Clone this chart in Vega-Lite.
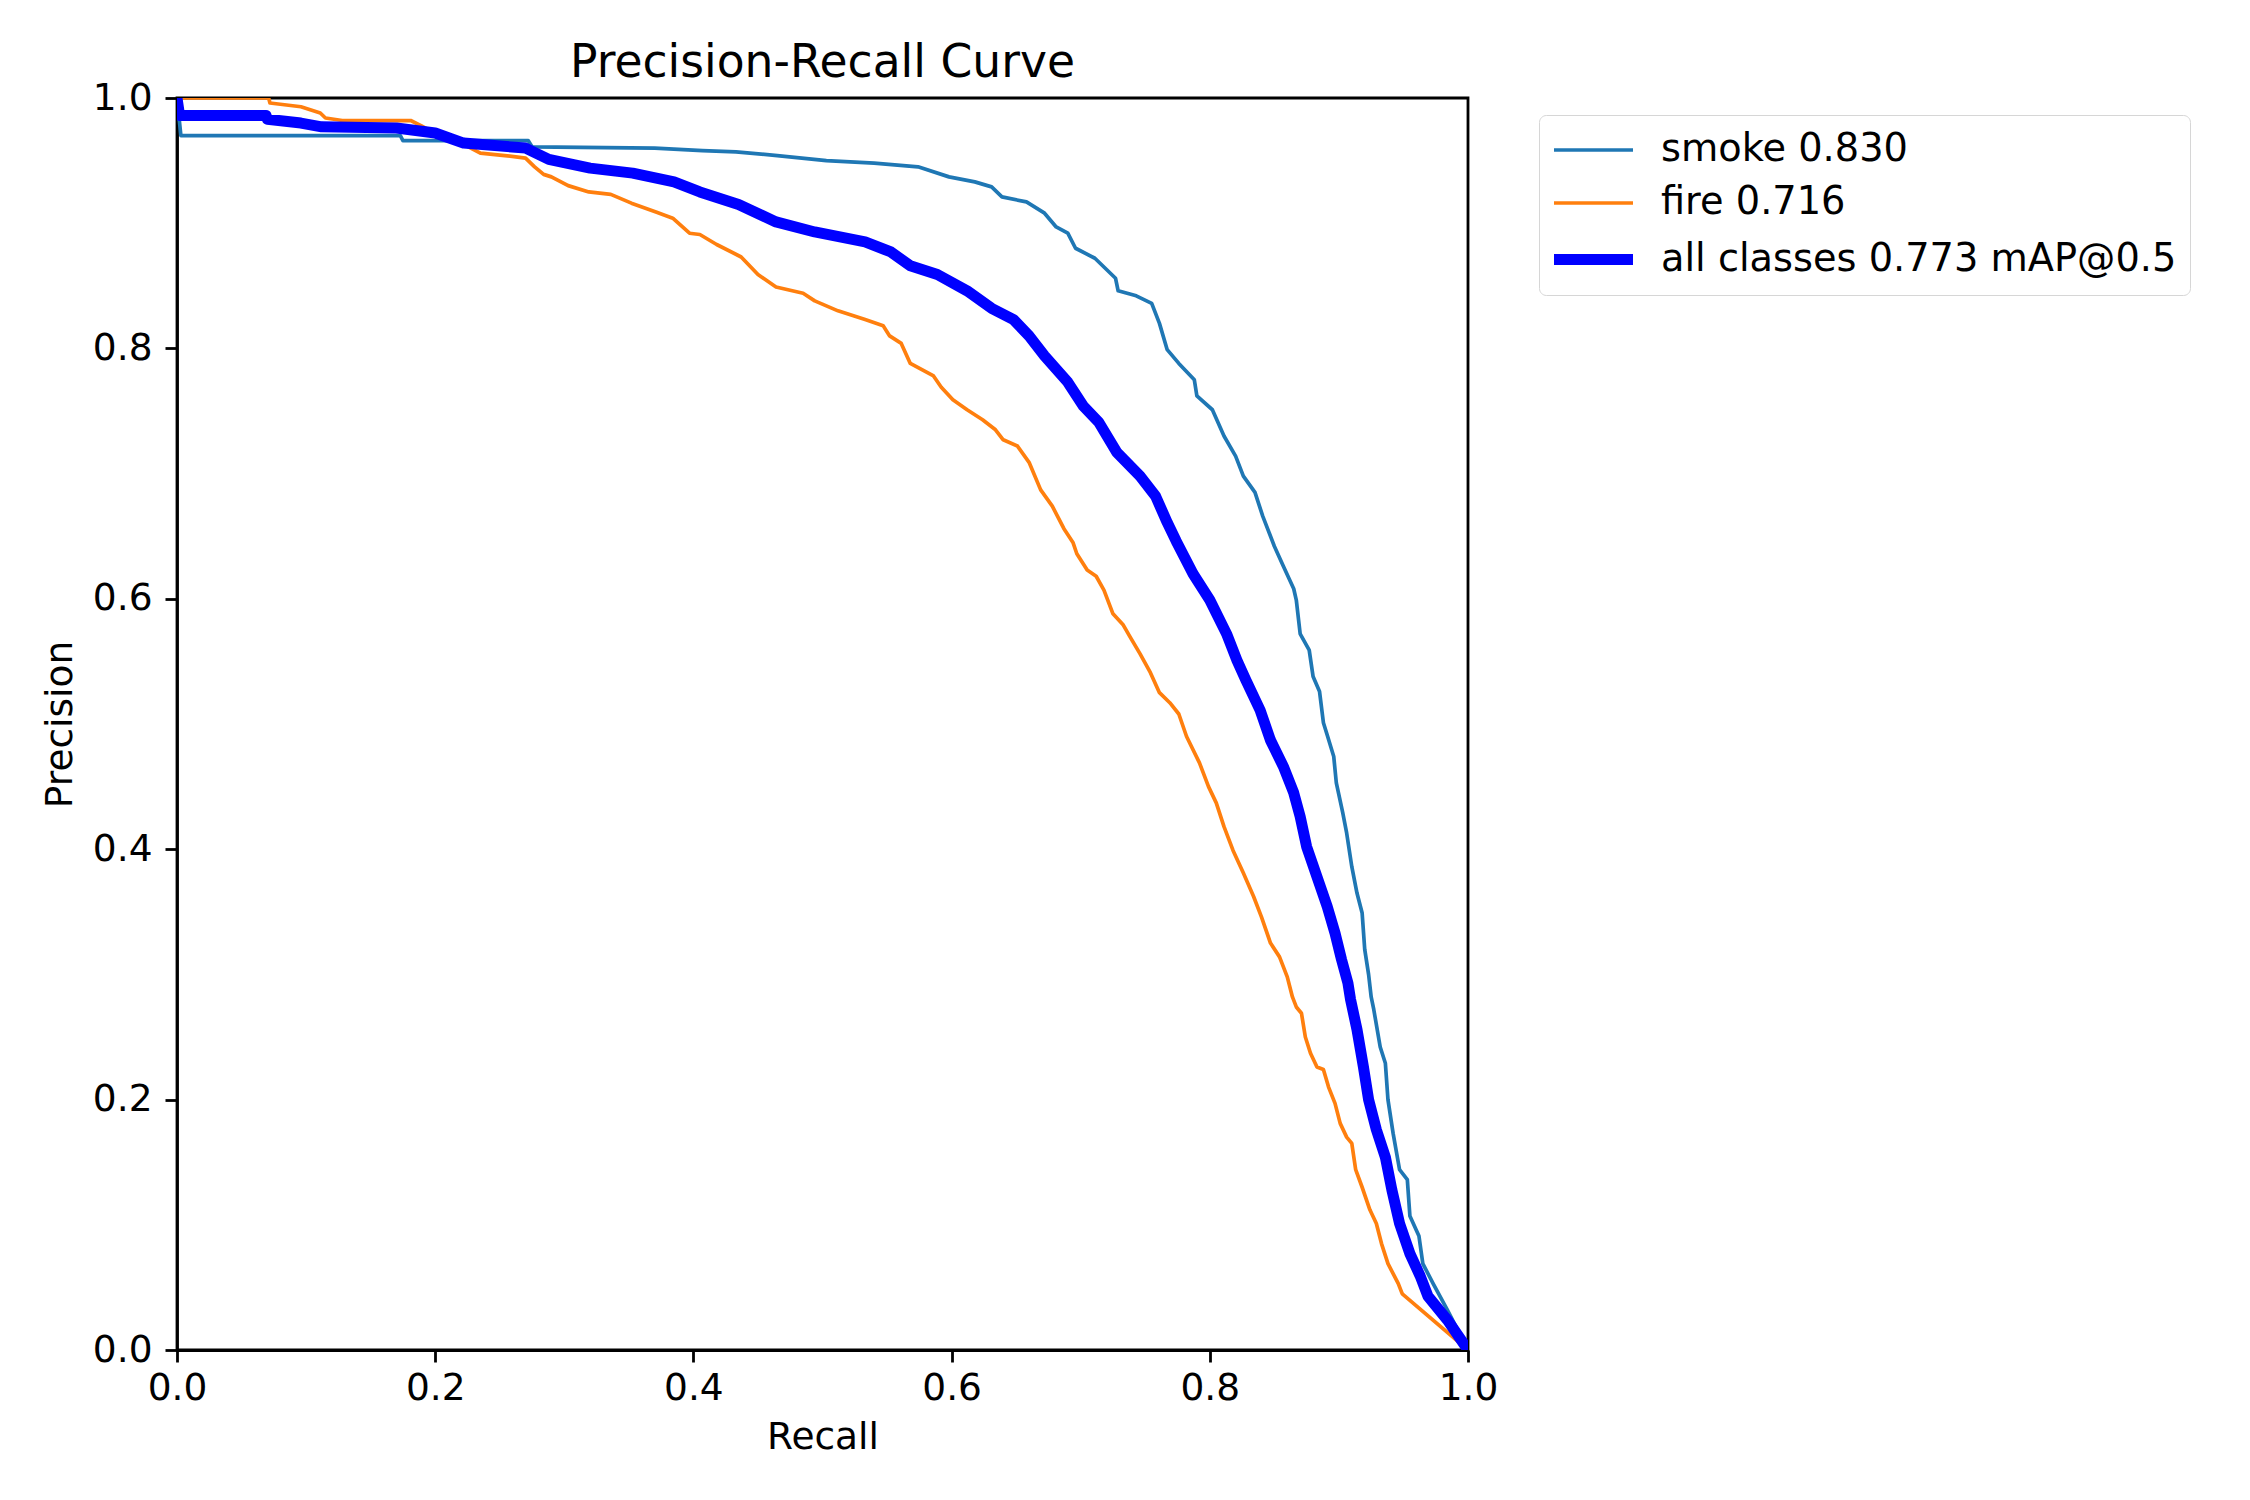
{
  "$schema": "https://vega.github.io/schema/vega-lite/v6.json",
  "width": 1291,
  "height": 1252,
  "autosize": "none",
  "padding": {"left": 177, "top": 98, "right": 782, "bottom": 150},
  "background": "white",
  "title": {
    "text": "Precision-Recall Curve",
    "font": "DejaVu Sans",
    "fontSize": 45.6,
    "fontWeight": "normal",
    "color": "black",
    "baseline": "bottom",
    "offset": 14,
    "dy": 68
  },
  "config": {
    "view": {"stroke": "black", "strokeWidth": 2.8},
    "axis": {
      "domainColor": "black",
      "domainWidth": 2.8,
      "tickColor": "black",
      "tickWidth": 2.8,
      "tickSize": 12,
      "labelPadding": 11,
      "labelFont": "DejaVu Sans",
      "labelFontSize": 37.5,
      "labelColor": "black",
      "titleFont": "DejaVu Sans",
      "titleFontSize": 37.5,
      "titleFontWeight": "normal",
      "titleColor": "black",
      "grid": false,
      "labelFlush": false,
      "labelOverlap": false
    },
    "legend": {
      "orient": "none",
      "legendX": 1362,
      "legendY": 17,
      "symbolType": "M-2,0L2,0",
      "symbolSize": 1560,
      "symbolOffset": 16,
      "labelFont": "DejaVu Sans",
      "labelFontSize": 38.3,
      "labelColor": "black",
      "labelOffset": 42,
      "labelLimit": 800,
      "padding": 13,
      "rowPadding": 12,
      "strokeColor": "#d6d6d6",
      "fillColor": "white",
      "cornerRadius": 7
    }
  },
  "data": {
    "values": [
      {"series": "smoke 0.830", "recall": 0, "precision": 1.0},
      {"series": "smoke 0.830", "recall": 0.003, "precision": 0.970},
      {"series": "smoke 0.830", "recall": 0.173, "precision": 0.970},
      {"series": "smoke 0.830", "recall": 0.175, "precision": 0.966},
      {"series": "smoke 0.830", "recall": 0.272, "precision": 0.966},
      {"series": "smoke 0.830", "recall": 0.275, "precision": 0.961},
      {"series": "smoke 0.830", "recall": 0.370, "precision": 0.960},
      {"series": "smoke 0.830", "recall": 0.407, "precision": 0.958},
      {"series": "smoke 0.830", "recall": 0.433, "precision": 0.957},
      {"series": "smoke 0.830", "recall": 0.465, "precision": 0.954},
      {"series": "smoke 0.830", "recall": 0.503, "precision": 0.950},
      {"series": "smoke 0.830", "recall": 0.540, "precision": 0.948},
      {"series": "smoke 0.830", "recall": 0.574, "precision": 0.945},
      {"series": "smoke 0.830", "recall": 0.598, "precision": 0.937},
      {"series": "smoke 0.830", "recall": 0.618, "precision": 0.933},
      {"series": "smoke 0.830", "recall": 0.631, "precision": 0.929},
      {"series": "smoke 0.830", "recall": 0.639, "precision": 0.921},
      {"series": "smoke 0.830", "recall": 0.658, "precision": 0.917},
      {"series": "smoke 0.830", "recall": 0.672, "precision": 0.908},
      {"series": "smoke 0.830", "recall": 0.681, "precision": 0.897},
      {"series": "smoke 0.830", "recall": 0.690, "precision": 0.892},
      {"series": "smoke 0.830", "recall": 0.696, "precision": 0.880},
      {"series": "smoke 0.830", "recall": 0.711, "precision": 0.872},
      {"series": "smoke 0.830", "recall": 0.720, "precision": 0.863},
      {"series": "smoke 0.830", "recall": 0.727, "precision": 0.856},
      {"series": "smoke 0.830", "recall": 0.729, "precision": 0.846},
      {"series": "smoke 0.830", "recall": 0.743, "precision": 0.842},
      {"series": "smoke 0.830", "recall": 0.755, "precision": 0.836},
      {"series": "smoke 0.830", "recall": 0.761, "precision": 0.820},
      {"series": "smoke 0.830", "recall": 0.767, "precision": 0.799},
      {"series": "smoke 0.830", "recall": 0.776, "precision": 0.788},
      {"series": "smoke 0.830", "recall": 0.788, "precision": 0.775},
      {"series": "smoke 0.830", "recall": 0.790, "precision": 0.762},
      {"series": "smoke 0.830", "recall": 0.802, "precision": 0.751},
      {"series": "smoke 0.830", "recall": 0.811, "precision": 0.730},
      {"series": "smoke 0.830", "recall": 0.820, "precision": 0.714},
      {"series": "smoke 0.830", "recall": 0.826, "precision": 0.698},
      {"series": "smoke 0.830", "recall": 0.835, "precision": 0.685},
      {"series": "smoke 0.830", "recall": 0.841, "precision": 0.666},
      {"series": "smoke 0.830", "recall": 0.850, "precision": 0.642},
      {"series": "smoke 0.830", "recall": 0.857, "precision": 0.626},
      {"series": "smoke 0.830", "recall": 0.865, "precision": 0.608},
      {"series": "smoke 0.830", "recall": 0.867, "precision": 0.599},
      {"series": "smoke 0.830", "recall": 0.870, "precision": 0.572},
      {"series": "smoke 0.830", "recall": 0.877, "precision": 0.559},
      {"series": "smoke 0.830", "recall": 0.880, "precision": 0.538},
      {"series": "smoke 0.830", "recall": 0.885, "precision": 0.526},
      {"series": "smoke 0.830", "recall": 0.888, "precision": 0.501},
      {"series": "smoke 0.830", "recall": 0.891, "precision": 0.491},
      {"series": "smoke 0.830", "recall": 0.896, "precision": 0.474},
      {"series": "smoke 0.830", "recall": 0.898, "precision": 0.453},
      {"series": "smoke 0.830", "recall": 0.903, "precision": 0.429},
      {"series": "smoke 0.830", "recall": 0.906, "precision": 0.413},
      {"series": "smoke 0.830", "recall": 0.910, "precision": 0.386},
      {"series": "smoke 0.830", "recall": 0.914, "precision": 0.365},
      {"series": "smoke 0.830", "recall": 0.918, "precision": 0.349},
      {"series": "smoke 0.830", "recall": 0.920, "precision": 0.320},
      {"series": "smoke 0.830", "recall": 0.923, "precision": 0.300},
      {"series": "smoke 0.830", "recall": 0.925, "precision": 0.282},
      {"series": "smoke 0.830", "recall": 0.927, "precision": 0.272},
      {"series": "smoke 0.830", "recall": 0.932, "precision": 0.242},
      {"series": "smoke 0.830", "recall": 0.936, "precision": 0.229},
      {"series": "smoke 0.830", "recall": 0.938, "precision": 0.200},
      {"series": "smoke 0.830", "recall": 0.942, "precision": 0.173},
      {"series": "smoke 0.830", "recall": 0.947, "precision": 0.144},
      {"series": "smoke 0.830", "recall": 0.953, "precision": 0.136},
      {"series": "smoke 0.830", "recall": 0.955, "precision": 0.107},
      {"series": "smoke 0.830", "recall": 0.962, "precision": 0.091},
      {"series": "smoke 0.830", "recall": 0.965, "precision": 0.069},
      {"series": "smoke 0.830", "recall": 0.973, "precision": 0.053},
      {"series": "smoke 0.830", "recall": 0.984, "precision": 0.032},
      {"series": "smoke 0.830", "recall": 1.0, "precision": 0.0},

      {"series": "fire 0.716", "recall": 0, "precision": 1.0},
      {"series": "fire 0.716", "recall": 0.071, "precision": 1.0},
      {"series": "fire 0.716", "recall": 0.072, "precision": 0.996},
      {"series": "fire 0.716", "recall": 0.096, "precision": 0.993},
      {"series": "fire 0.716", "recall": 0.111, "precision": 0.988},
      {"series": "fire 0.716", "recall": 0.115, "precision": 0.984},
      {"series": "fire 0.716", "recall": 0.128, "precision": 0.982},
      {"series": "fire 0.716", "recall": 0.181, "precision": 0.982},
      {"series": "fire 0.716", "recall": 0.189, "precision": 0.978},
      {"series": "fire 0.716", "recall": 0.196, "precision": 0.974},
      {"series": "fire 0.716", "recall": 0.222, "precision": 0.963},
      {"series": "fire 0.716", "recall": 0.235, "precision": 0.956},
      {"series": "fire 0.716", "recall": 0.254, "precision": 0.954},
      {"series": "fire 0.716", "recall": 0.270, "precision": 0.952},
      {"series": "fire 0.716", "recall": 0.277, "precision": 0.945},
      {"series": "fire 0.716", "recall": 0.284, "precision": 0.939},
      {"series": "fire 0.716", "recall": 0.290, "precision": 0.937},
      {"series": "fire 0.716", "recall": 0.303, "precision": 0.930},
      {"series": "fire 0.716", "recall": 0.319, "precision": 0.925},
      {"series": "fire 0.716", "recall": 0.336, "precision": 0.923},
      {"series": "fire 0.716", "recall": 0.352, "precision": 0.916},
      {"series": "fire 0.716", "recall": 0.371, "precision": 0.909},
      {"series": "fire 0.716", "recall": 0.384, "precision": 0.904},
      {"series": "fire 0.716", "recall": 0.397, "precision": 0.892},
      {"series": "fire 0.716", "recall": 0.405, "precision": 0.891},
      {"series": "fire 0.716", "recall": 0.418, "precision": 0.883},
      {"series": "fire 0.716", "recall": 0.437, "precision": 0.873},
      {"series": "fire 0.716", "recall": 0.450, "precision": 0.859},
      {"series": "fire 0.716", "recall": 0.464, "precision": 0.849},
      {"series": "fire 0.716", "recall": 0.485, "precision": 0.844},
      {"series": "fire 0.716", "recall": 0.494, "precision": 0.838},
      {"series": "fire 0.716", "recall": 0.512, "precision": 0.830},
      {"series": "fire 0.716", "recall": 0.533, "precision": 0.823},
      {"series": "fire 0.716", "recall": 0.547, "precision": 0.818},
      {"series": "fire 0.716", "recall": 0.552, "precision": 0.810},
      {"series": "fire 0.716", "recall": 0.561, "precision": 0.804},
      {"series": "fire 0.716", "recall": 0.568, "precision": 0.788},
      {"series": "fire 0.716", "recall": 0.586, "precision": 0.778},
      {"series": "fire 0.716", "recall": 0.592, "precision": 0.769},
      {"series": "fire 0.716", "recall": 0.601, "precision": 0.759},
      {"series": "fire 0.716", "recall": 0.612, "precision": 0.751},
      {"series": "fire 0.716", "recall": 0.624, "precision": 0.743},
      {"series": "fire 0.716", "recall": 0.634, "precision": 0.735},
      {"series": "fire 0.716", "recall": 0.640, "precision": 0.727},
      {"series": "fire 0.716", "recall": 0.651, "precision": 0.722},
      {"series": "fire 0.716", "recall": 0.660, "precision": 0.709},
      {"series": "fire 0.716", "recall": 0.669, "precision": 0.687},
      {"series": "fire 0.716", "recall": 0.678, "precision": 0.674},
      {"series": "fire 0.716", "recall": 0.687, "precision": 0.656},
      {"series": "fire 0.716", "recall": 0.694, "precision": 0.645},
      {"series": "fire 0.716", "recall": 0.697, "precision": 0.636},
      {"series": "fire 0.716", "recall": 0.705, "precision": 0.623},
      {"series": "fire 0.716", "recall": 0.712, "precision": 0.618},
      {"series": "fire 0.716", "recall": 0.718, "precision": 0.607},
      {"series": "fire 0.716", "recall": 0.725, "precision": 0.588},
      {"series": "fire 0.716", "recall": 0.733, "precision": 0.579},
      {"series": "fire 0.716", "recall": 0.738, "precision": 0.570},
      {"series": "fire 0.716", "recall": 0.746, "precision": 0.556},
      {"series": "fire 0.716", "recall": 0.754, "precision": 0.541},
      {"series": "fire 0.716", "recall": 0.761, "precision": 0.525},
      {"series": "fire 0.716", "recall": 0.769, "precision": 0.517},
      {"series": "fire 0.716", "recall": 0.776, "precision": 0.508},
      {"series": "fire 0.716", "recall": 0.782, "precision": 0.490},
      {"series": "fire 0.716", "recall": 0.792, "precision": 0.469},
      {"series": "fire 0.716", "recall": 0.799, "precision": 0.450},
      {"series": "fire 0.716", "recall": 0.805, "precision": 0.437},
      {"series": "fire 0.716", "recall": 0.811, "precision": 0.418},
      {"series": "fire 0.716", "recall": 0.818, "precision": 0.399},
      {"series": "fire 0.716", "recall": 0.826, "precision": 0.381},
      {"series": "fire 0.716", "recall": 0.834, "precision": 0.362},
      {"series": "fire 0.716", "recall": 0.840, "precision": 0.346},
      {"series": "fire 0.716", "recall": 0.847, "precision": 0.325},
      {"series": "fire 0.716", "recall": 0.854, "precision": 0.314},
      {"series": "fire 0.716", "recall": 0.860, "precision": 0.298},
      {"series": "fire 0.716", "recall": 0.864, "precision": 0.282},
      {"series": "fire 0.716", "recall": 0.867, "precision": 0.274},
      {"series": "fire 0.716", "recall": 0.871, "precision": 0.269},
      {"series": "fire 0.716", "recall": 0.874, "precision": 0.250},
      {"series": "fire 0.716", "recall": 0.878, "precision": 0.237},
      {"series": "fire 0.716", "recall": 0.883, "precision": 0.226},
      {"series": "fire 0.716", "recall": 0.888, "precision": 0.224},
      {"series": "fire 0.716", "recall": 0.892, "precision": 0.210},
      {"series": "fire 0.716", "recall": 0.897, "precision": 0.197},
      {"series": "fire 0.716", "recall": 0.901, "precision": 0.181},
      {"series": "fire 0.716", "recall": 0.906, "precision": 0.170},
      {"series": "fire 0.716", "recall": 0.910, "precision": 0.165},
      {"series": "fire 0.716", "recall": 0.913, "precision": 0.144},
      {"series": "fire 0.716", "recall": 0.918, "precision": 0.130},
      {"series": "fire 0.716", "recall": 0.924, "precision": 0.112},
      {"series": "fire 0.716", "recall": 0.929, "precision": 0.101},
      {"series": "fire 0.716", "recall": 0.933, "precision": 0.085},
      {"series": "fire 0.716", "recall": 0.938, "precision": 0.069},
      {"series": "fire 0.716", "recall": 0.942, "precision": 0.061},
      {"series": "fire 0.716", "recall": 0.946, "precision": 0.053},
      {"series": "fire 0.716", "recall": 0.949, "precision": 0.045},
      {"series": "fire 0.716", "recall": 0.950, "precision": 0.044},
      {"series": "fire 0.716", "recall": 1.0, "precision": 0.0},

      {"series": "all classes 0.773 mAP@0.5", "recall": 0, "precision": 1.0},
      {"series": "all classes 0.773 mAP@0.5", "recall": 0.002, "precision": 0.986},
      {"series": "all classes 0.773 mAP@0.5", "recall": 0.069, "precision": 0.986},
      {"series": "all classes 0.773 mAP@0.5", "recall": 0.070, "precision": 0.983},
      {"series": "all classes 0.773 mAP@0.5", "recall": 0.096, "precision": 0.980},
      {"series": "all classes 0.773 mAP@0.5", "recall": 0.112, "precision": 0.977},
      {"series": "all classes 0.773 mAP@0.5", "recall": 0.170, "precision": 0.976},
      {"series": "all classes 0.773 mAP@0.5", "recall": 0.200, "precision": 0.972},
      {"series": "all classes 0.773 mAP@0.5", "recall": 0.222, "precision": 0.964},
      {"series": "all classes 0.773 mAP@0.5", "recall": 0.270, "precision": 0.960},
      {"series": "all classes 0.773 mAP@0.5", "recall": 0.288, "precision": 0.951},
      {"series": "all classes 0.773 mAP@0.5", "recall": 0.320, "precision": 0.944},
      {"series": "all classes 0.773 mAP@0.5", "recall": 0.353, "precision": 0.940},
      {"series": "all classes 0.773 mAP@0.5", "recall": 0.385, "precision": 0.933},
      {"series": "all classes 0.773 mAP@0.5", "recall": 0.405, "precision": 0.925},
      {"series": "all classes 0.773 mAP@0.5", "recall": 0.435, "precision": 0.915},
      {"series": "all classes 0.773 mAP@0.5", "recall": 0.464, "precision": 0.901},
      {"series": "all classes 0.773 mAP@0.5", "recall": 0.494, "precision": 0.893},
      {"series": "all classes 0.773 mAP@0.5", "recall": 0.533, "precision": 0.885},
      {"series": "all classes 0.773 mAP@0.5", "recall": 0.553, "precision": 0.877},
      {"series": "all classes 0.773 mAP@0.5", "recall": 0.568, "precision": 0.866},
      {"series": "all classes 0.773 mAP@0.5", "recall": 0.589, "precision": 0.859},
      {"series": "all classes 0.773 mAP@0.5", "recall": 0.612, "precision": 0.846},
      {"series": "all classes 0.773 mAP@0.5", "recall": 0.631, "precision": 0.832},
      {"series": "all classes 0.773 mAP@0.5", "recall": 0.648, "precision": 0.823},
      {"series": "all classes 0.773 mAP@0.5", "recall": 0.660, "precision": 0.810},
      {"series": "all classes 0.773 mAP@0.5", "recall": 0.672, "precision": 0.794},
      {"series": "all classes 0.773 mAP@0.5", "recall": 0.690, "precision": 0.773},
      {"series": "all classes 0.773 mAP@0.5", "recall": 0.702, "precision": 0.754},
      {"series": "all classes 0.773 mAP@0.5", "recall": 0.714, "precision": 0.741},
      {"series": "all classes 0.773 mAP@0.5", "recall": 0.728, "precision": 0.717},
      {"series": "all classes 0.773 mAP@0.5", "recall": 0.746, "precision": 0.698},
      {"series": "all classes 0.773 mAP@0.5", "recall": 0.758, "precision": 0.682},
      {"series": "all classes 0.773 mAP@0.5", "recall": 0.767, "precision": 0.661},
      {"series": "all classes 0.773 mAP@0.5", "recall": 0.774, "precision": 0.646},
      {"series": "all classes 0.773 mAP@0.5", "recall": 0.787, "precision": 0.620},
      {"series": "all classes 0.773 mAP@0.5", "recall": 0.800, "precision": 0.599},
      {"series": "all classes 0.773 mAP@0.5", "recall": 0.813, "precision": 0.572},
      {"series": "all classes 0.773 mAP@0.5", "recall": 0.821, "precision": 0.551},
      {"series": "all classes 0.773 mAP@0.5", "recall": 0.828, "precision": 0.535},
      {"series": "all classes 0.773 mAP@0.5", "recall": 0.839, "precision": 0.511},
      {"series": "all classes 0.773 mAP@0.5", "recall": 0.847, "precision": 0.487},
      {"series": "all classes 0.773 mAP@0.5", "recall": 0.857, "precision": 0.466},
      {"series": "all classes 0.773 mAP@0.5", "recall": 0.865, "precision": 0.445},
      {"series": "all classes 0.773 mAP@0.5", "recall": 0.870, "precision": 0.426},
      {"series": "all classes 0.773 mAP@0.5", "recall": 0.875, "precision": 0.402},
      {"series": "all classes 0.773 mAP@0.5", "recall": 0.883, "precision": 0.378},
      {"series": "all classes 0.773 mAP@0.5", "recall": 0.891, "precision": 0.354},
      {"series": "all classes 0.773 mAP@0.5", "recall": 0.897, "precision": 0.333},
      {"series": "all classes 0.773 mAP@0.5", "recall": 0.902, "precision": 0.312},
      {"series": "all classes 0.773 mAP@0.5", "recall": 0.907, "precision": 0.293},
      {"series": "all classes 0.773 mAP@0.5", "recall": 0.909, "precision": 0.280},
      {"series": "all classes 0.773 mAP@0.5", "recall": 0.914, "precision": 0.256},
      {"series": "all classes 0.773 mAP@0.5", "recall": 0.919, "precision": 0.226},
      {"series": "all classes 0.773 mAP@0.5", "recall": 0.923, "precision": 0.200},
      {"series": "all classes 0.773 mAP@0.5", "recall": 0.929, "precision": 0.176},
      {"series": "all classes 0.773 mAP@0.5", "recall": 0.936, "precision": 0.154},
      {"series": "all classes 0.773 mAP@0.5", "recall": 0.941, "precision": 0.128},
      {"series": "all classes 0.773 mAP@0.5", "recall": 0.947, "precision": 0.101},
      {"series": "all classes 0.773 mAP@0.5", "recall": 0.955, "precision": 0.077},
      {"series": "all classes 0.773 mAP@0.5", "recall": 0.963, "precision": 0.059},
      {"series": "all classes 0.773 mAP@0.5", "recall": 0.969, "precision": 0.043},
      {"series": "all classes 0.773 mAP@0.5", "recall": 0.984, "precision": 0.024},
      {"series": "all classes 0.773 mAP@0.5", "recall": 1.0, "precision": 0.0}
    ]
  },
  "encoding": {
    "x": {
      "field": "recall",
      "type": "quantitative",
      "title": "Recall",
      "scale": {"domain": [0, 1], "nice": false},
      "axis": {"values": [0, 0.2, 0.4, 0.6, 0.8, 1.0], "format": ".1f", "labelPadding": 7, "titlePadding": 12}
    },
    "y": {
      "field": "precision",
      "type": "quantitative",
      "title": "Precision",
      "scale": {"domain": [0, 1], "nice": false},
      "axis": {"values": [0, 0.2, 0.4, 0.6, 0.8, 1.0], "format": ".1f", "labelPadding": 13, "titlePadding": 13}
    },
    "color": {
      "field": "series",
      "type": "nominal",
      "title": null,
      "scale": {
        "domain": ["smoke 0.830", "fire 0.716", "all classes 0.773 mAP@0.5"],
        "range": ["#1f77b4", "#ff7f0e", "#0000ff"]
      }
    },
    "strokeWidth": {
      "field": "series",
      "type": "ordinal",
      "title": null,
      "scale": {
        "type": "ordinal",
        "domain": ["smoke 0.830", "fire 0.716", "all classes 0.773 mAP@0.5"],
        "range": [3.7, 3.7, 11]
      }
    }
  },
  "layer": [
    {
      "transform": [{"filter": "datum.series != 'all classes 0.773 mAP@0.5'"}],
      "mark": {"type": "line", "clip": true, "strokeJoin": "round"}
    },
    {
      "transform": [{"filter": "datum.series == 'all classes 0.773 mAP@0.5'"}],
      "mark": {"type": "line", "clip": true, "strokeJoin": "round"}
    }
  ]
}
